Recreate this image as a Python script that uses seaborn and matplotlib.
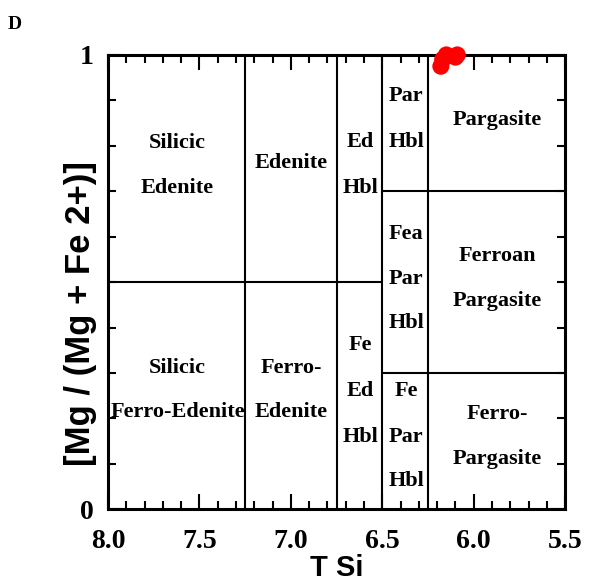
import pandas as pd
import matplotlib.pyplot as plt
import seaborn as sns
from matplotlib.ticker import MultipleLocator

# analysed amphiboles (T Si vs Mg number)
t_si = [6.18, 6.17, 6.15, 6.10, 6.09]
mg_no = [0.975, 0.99, 1.0, 0.995, 1.0]

# axis ticks
x_ticks = [8.0, 7.5, 7.0, 6.5, 6.0, 5.5]
x_tick_labels = ['8.0', '7.5', '7.0', '6.5', '6.0', '5.5']
y_ticks = [0, 1]
y_tick_labels = ['0', '1']

# field boundaries of the classification diagram
vert_x = [7.25, 6.75, 6.5, 6.25]
left_split = 0.5
right_splits = [0.7, 0.3]

# field names: (x, y, text)
field_x = [7.62, 7.62, 7.0, 6.62, 6.62, 6.37, 6.37, 5.87,
           6.37, 6.37, 6.37, 5.87, 5.87,
           7.62, 7.62, 7.0, 7.0, 6.62, 6.62, 6.62,
           6.37, 6.37, 6.37, 5.87, 5.87]
field_y = [0.806, 0.707, 0.762, 0.808, 0.707, 0.91, 0.808, 0.857,
           0.606, 0.506, 0.41, 0.557, 0.458,
           0.311, 0.214, 0.311, 0.214, 0.361, 0.26, 0.159,
           0.26, 0.159, 0.062, 0.209, 0.11]
field_txt = ['Silicic', 'Edenite', 'Edenite', 'Ed', 'Hbl', 'Par', 'Hbl', 'Pargasite',
             'Fea', 'Par', 'Hbl', 'Ferroan', 'Pargasite',
             'Silicic', 'Ferro-Edenite', 'Ferro-', 'Edenite', 'Fe', 'Ed', 'Hbl',
             'Fe', 'Par', 'Hbl', 'Ferro-', 'Pargasite']

sns.set_style('ticks', {'axes.edgecolor': 'black', 'text.color': 'black',
                        'xtick.color': 'black', 'ytick.color': 'black',
                        'axes.labelcolor': 'black'})
fig = plt.figure(figsize=(5.9, 5.84), dpi=100)
ax = fig.add_axes([0.183, 0.128, 0.775, 0.778])

df = pd.DataFrame({'TSi': t_si, 'Mg': mg_no})
sns.scatterplot(data=df, x='TSi', y='Mg', ax=ax, color='red', s=150,
                edgecolor='none', clip_on=False, zorder=5)

for x in vert_x:
    ax.axvline(x, color='black', lw=1.5)
ax.plot([8.0, 6.5], [left_split, left_split], color='black', lw=1.5)
for y in right_splits:
    ax.plot([6.5, 5.5], [y, y], color='black', lw=1.5)

for x, y, t in zip(field_x, field_y, field_txt):
    ax.text(x, y, t, ha='center', va='center', fontsize=16, color='black',
            fontweight='bold', family='Liberation Serif')

ax.set_xlim(8.0, 5.5)
ax.set_ylim(0, 1)
ax.set_xticks(x_ticks, x_tick_labels)
ax.set_yticks(y_ticks, y_tick_labels)
ax.xaxis.set_minor_locator(MultipleLocator(0.1))
ax.yaxis.set_minor_locator(MultipleLocator(0.1))
ax.tick_params(which='both', direction='in', top=True, right=True, width=1.5,
               color='black', labelcolor='black')
ax.tick_params(which='major', length=11)
ax.tick_params(which='minor', length=6)
ax.tick_params(axis='x', which='major', pad=14)
ax.tick_params(axis='y', which='major', pad=10)
for lab in ax.get_xticklabels() + ax.get_yticklabels():
    lab.set_fontsize(20)
    lab.set_fontweight('bold')
    lab.set_family('Liberation Serif')
for sp in ax.spines.values():
    sp.set_linewidth(2.2)
    sp.set_color('black')

ax.set_xlabel('T Si', fontsize=21, fontweight='bold', family='Liberation Sans',
              labelpad=0, color='black')
ax.set_ylabel('[Mg / (Mg + Fe 2+)]', fontsize=25, fontweight='bold',
              family='Liberation Sans', color='black')
ax.yaxis.set_label_coords(-0.025, 0.43)
fig.text(0.013, 0.95, 'D', fontsize=14, fontweight='bold', family='Liberation Serif',
         color='black')

fig.savefig('out.png', dpi=100)
